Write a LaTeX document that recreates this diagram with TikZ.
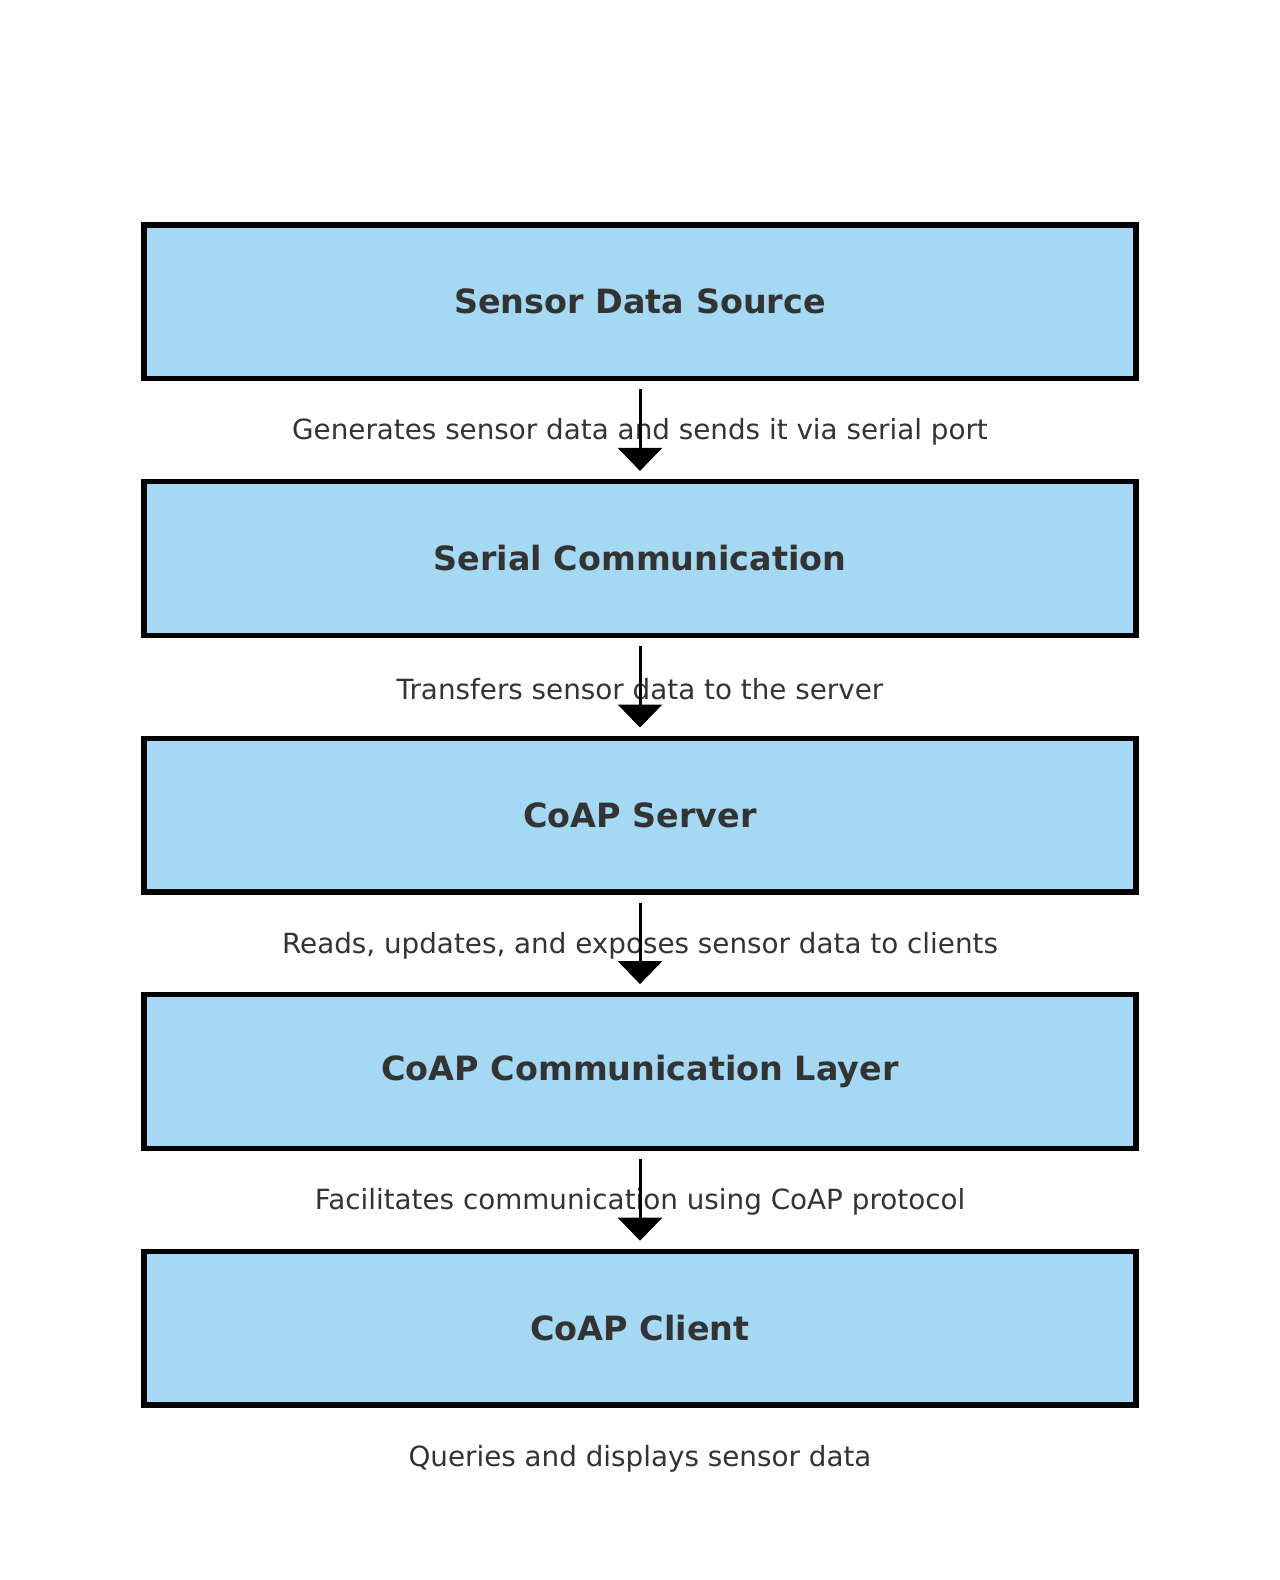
\documentclass[tikz,border=0pt]{standalone}
\usepackage{fontspec}
\setmainfont{DejaVu Sans}
\usetikzlibrary{arrows.meta}
\definecolor{boxfill}{RGB}{165,216,243}
\definecolor{txt}{RGB}{51,51,51}
\begin{document}
\begin{tikzpicture}[x=1pt,y=1pt,
  layerbox/.style={draw=black, fill=boxfill, line width=5.3pt, minimum width=992pt, minimum height=153.7pt, inner sep=0pt, text=txt, font=\fontsize{33.4}{40}\selectfont\bfseries},
  flowlabel/.style={inner sep=0pt, text=txt, font=\fontsize{27.8}{33}\selectfont},
  flowarrow/.style={draw=black, line width=3pt, -{Triangle[width=44pt,length=23pt]}, shorten <=8pt, shorten >=8pt}]
\useasboundingbox (0,0) rectangle (1280,-1580);
\node[layerbox] (b1) at (640,-301.8) {Sensor Data Source};
\node[layerbox] (b2) at (640,-558.4) {Serial Communication};
\node[layerbox] (b3) at (640,-815.0) {CoAP Server};
\node[layerbox] (b4) at (640,-1071.6) {CoAP Communication Layer};
\node[layerbox] (b5) at (640,-1328.2) {CoAP Client};
\node[flowlabel] (l1) at (640,-432.3) {Generates sensor data and sends it via serial port};
\node[flowlabel] (l2) at (640,-688.9) {Transfers sensor data to the server};
\node[flowlabel] (l3) at (640,-945.5) {Reads, updates, and exposes sensor data to clients};
\node[flowlabel] (l4) at (640,-1202.1) {Facilitates communication using CoAP protocol};
\node[flowlabel] (l5) at (640,-1458.7) {Queries and displays sensor data};
\draw[flowarrow] (b1.south) -- (b2.north);
\draw[flowarrow] (b2.south) -- (b3.north);
\draw[flowarrow] (b3.south) -- (b4.north);
\draw[flowarrow] (b4.south) -- (b5.north);
\end{tikzpicture}
\end{document}
